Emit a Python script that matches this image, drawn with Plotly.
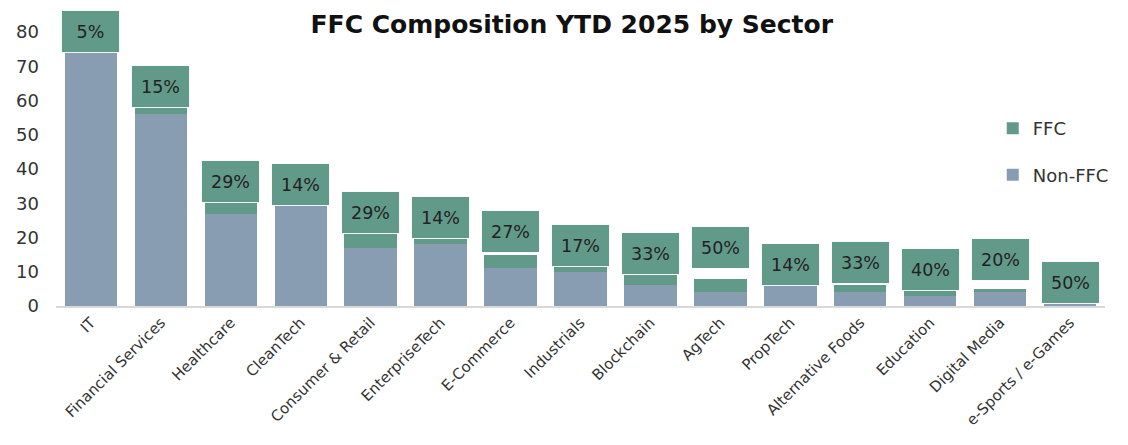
import plotly.graph_objects as go

sectors = ["IT", "Financial Services", "Healthcare", "CleanTech", "Consumer & Retail",
           "EnterpriseTech", "E-Commerce", "Industrials", "Blockchain", "AgTech",
           "PropTech", "Alternative Foods", "Education", "Digital Media", "e-Sports / e-Games"]
non_ffc = [75, 56, 27, 30, 17, 18, 11, 10, 6, 4, 6, 4, 3, 4, 1]
ffc = [4, 10, 11, 5, 7, 3, 4, 2, 3, 4, 1, 2, 2, 1, 1]
ffc_share_labels = ["5%", "15%", "29%", "14%", "29%", "14%", "27%", "17%", "33%", "50%",
                    "14%", "33%", "40%", "20%", "50%"]

# label placement (pixel shift of the label box relative to the bar top) - styling only
label_shift_px = [4, -7, -6, 2, 11, 17, 23, 19, 22, 31, 18, 23, 19, 29, 17]

C_NON = "rgb(136,157,177)"
C_FFC = "rgb(98,154,138)"
FONT = "DejaVu Sans"

fig = go.Figure()
fig.add_trace(go.Bar(x=sectors, y=non_ffc, name="Non-FFC", marker=dict(color=C_NON, line_width=0),
                     legendgroup="b", legendrank=2))
fig.add_trace(go.Bar(x=sectors, y=ffc, name="FFC", marker=dict(color=C_FFC, line_width=0),
                     legendgroup="a", legendrank=1))

totals = [a + b for a, b in zip(non_ffc, ffc)]
for s, t, lab, sh in zip(sectors, totals, ffc_share_labels, label_shift_px):
    fig.add_annotation(x=s, y=t, text=lab, showarrow=False, yanchor="middle", yshift=sh,
                       bgcolor=C_FFC, bordercolor="rgba(255,255,255,0.9)", borderwidth=1,
                       width=55, height=39, font=dict(family=FONT, size=17.5, color="#222"))

fig.update_layout(
    width=1112, height=429,
    margin=dict(l=48, r=6, t=24, b=131),
    paper_bgcolor="white", plot_bgcolor="white",
    barmode="stack", bargap=0.25,
    title=dict(text="<b>FFC Composition YTD 2025 by Sector</b>", x=0.507, xanchor="center",
               y=0.961, yanchor="middle", font=dict(family=FONT, size=25, color="#111")),
    font=dict(family=FONT, color="#333"),
    legend=dict(x=0.893, y=0.715, xanchor="left", yanchor="top", bgcolor="rgba(0,0,0,0)",
                font=dict(family=FONT, size=18, color="#333"), tracegroupgap=20,
                traceorder="grouped"),
    xaxis=dict(showgrid=False, tickangle=-45, tickfont=dict(family=FONT, size=15, color="#333"),
               showline=True, linecolor="#d9d9d9", linewidth=2, ticks=""),
    yaxis=dict(range=[0, 80], tickvals=[0, 10, 20, 30, 40, 50, 60, 70, 80], showgrid=False,
               zeroline=False, showline=False, ticks="", ticklabelstandoff=16,
               tickfont=dict(family=FONT, size=18, color="#333")),
)
fig.update_traces(cliponaxis=False)
fig.write_html("out.html")
